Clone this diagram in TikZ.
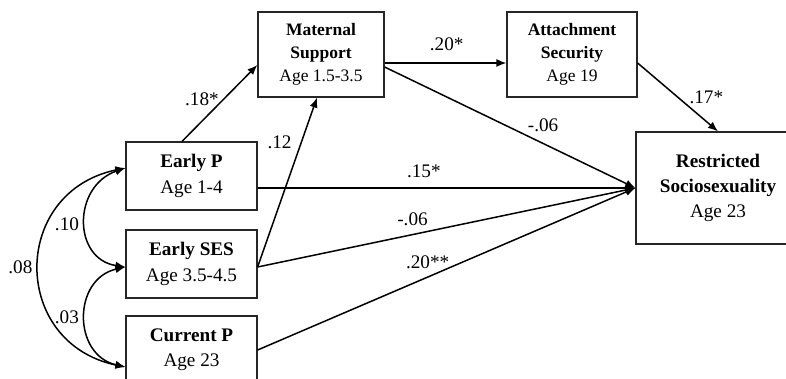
\documentclass[tikz,border=0pt]{standalone}
\usepackage{fontspec}
\setmainfont{Liberation Serif}
\usetikzlibrary{arrows.meta}

\tikzset{
    var/.style={draw=black!85, line width=0.6pt, align=center, inner sep=0pt,
        font=\fontsize{9.6pt}{12.6pt}\selectfont},
    smallvar/.style={var, font=\fontsize{8.75pt}{11.5pt}\selectfont},
    effect/.style={line width=0.75pt, -{Latex[length=5pt,width=4pt]}},
    covar/.style={line width=0.75pt, {Latex[length=5pt,width=4pt]}-{Latex[length=5pt,width=4pt]}},
    coef/.style={inner sep=2pt, font=\fontsize{9.6pt}{12pt}\selectfont}
}

\begin{document}
\begin{tikzpicture}[x=0.5pt,y=-0.5pt]
            \useasboundingbox (0,0) rectangle (786,379);
            \clip (0,0) rectangle (786,379);

            % observed variables
            \node[var, minimum width=65.5pt, minimum height=34pt] (earlyp) at (191.5,176) {\textbf{Early P}\\Age 1-4};
            \node[var, minimum width=65.5pt, minimum height=34pt] (ses) at (191.5,264) {\textbf{Early SES}\\Age 3.5-4.5};
            \node[var, minimum width=65.5pt, minimum height=34pt] (curp) at (191.5,350) {\textbf{Current P}\\Age 23};
            \node[smallvar, minimum width=63pt, minimum height=42.5pt] (matsup) at (321,54.5) {\textbf{Maternal}\\\textbf{Support}\\Age 1.5-3.5};
            \node[smallvar, minimum width=65pt, minimum height=42.5pt] (attach) at (572,54.5) {\textbf{Attachment}\\\textbf{Security}\\Age 19};
            \node[var, minimum width=82pt, minimum height=56pt] (socio) at (718,188) {\textbf{Restricted}\\\textbf{Sociosexuality}\\Age 23};

            % paths
            \draw[effect] ([xshift=-4.75pt]earlyp.north) -- node[coef, pos=0.55, left] {.18*} ([yshift=-5.25pt]matsup.west);
            \draw[effect] ([yshift=-1.5pt]ses.east) -- node[coef, pos=0.735, left=2.5pt] {.12} ([xshift=-2pt]matsup.south);
            \draw[effect] ([yshift=-4.25pt]matsup.east) -- node[coef, pos=0.51, above=3.7pt] {.20*} ([yshift=-4.25pt]attach.west);
            \draw[effect] ([yshift=-6.25pt]matsup.east) -- node[coef, pos=0.632, above=3.4pt] {-.06} (socio.west);
            \draw[effect] ([yshift=-4.25pt]attach.east) -- node[coef, midway, right=3.5pt] {.17*} ([xshift=0pt]socio.north);
            \draw[effect] ([yshift=-6pt]earlyp.east) -- node[coef, pos=0.44, above=2.7pt] {.15*} (socio.west);
            \draw[effect] ([yshift=-1.5pt]ses.east) -- node[coef, pos=0.41, above=2pt] {-.06} (socio.west);
            \draw[effect] (curp.east) -- node[coef, pos=0.45, above=2pt] {.20**} (socio.west);

            % correlations
            \draw[covar] ([yshift=4pt]earlyp.west) .. controls +(-26.5pt,-9pt) and +(-26.5pt,4pt) .. node[coef, pos=0.52, left=1pt] {.10} ([yshift=-1.5pt]ses.west);
            \draw[covar] ([yshift=-1.5pt]ses.west) .. controls +(-26.5pt,-6pt) and +(-26.5pt,6pt) .. node[coef, midway, left=1pt] {.03} ([yshift=-8.5pt]curp.west);
            \draw[covar] ([yshift=4pt]earlyp.west) .. controls +(-57.5pt,-12pt) and +(-57.5pt,12pt) .. node[coef, midway, left=1pt] {.08} ([yshift=-8.5pt]curp.west);
        \end{tikzpicture}
\end{document}
